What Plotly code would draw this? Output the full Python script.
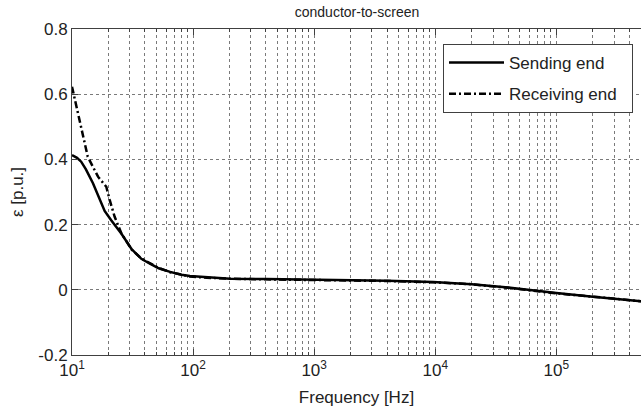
import plotly.graph_objects as go

# Frequency sweep (Hz) and epsilon values (p.u.), conductor-to-screen
freq_send = [10, 11, 11.9, 13, 14.9, 16.5, 18.6, 21, 23.5, 25.6, 31, 37.4, 44, 52,
             64.6, 80, 94, 130, 202, 400, 1050, 2000, 4000, 9600, 20000, 40000,
             65000, 100000, 200000, 500000]
eps_send = [0.413, 0.405, 0.393, 0.370, 0.327, 0.285, 0.242, 0.214, 0.192, 0.172,
            0.125, 0.095, 0.080, 0.066, 0.055, 0.046, 0.042, 0.038, 0.034, 0.033,
            0.031, 0.029, 0.028, 0.024, 0.017, 0.007, -0.003, -0.010, -0.021, -0.035]

freq_recv = [10, 11.6, 13.5, 16.4, 19.2, 20.5, 22.5, 25.6, 31, 37.4, 44, 52, 64.6,
             80, 94, 130, 202, 400, 1050, 2000, 4000, 9600, 20000, 40000, 65000,
             100000, 200000, 500000]
eps_recv = [0.623, 0.521, 0.408, 0.347, 0.316, 0.275, 0.224, 0.173, 0.124, 0.096,
            0.081, 0.067, 0.054, 0.046, 0.041, 0.037, 0.034, 0.032, 0.030, 0.028,
            0.027, 0.023, 0.017, 0.006, -0.004, -0.011, -0.021, -0.035]

x_major = [10, 100, 1000, 10000, 100000]
x_major_text = ["10<sup>1</sup>", "10<sup>2</sup>", "10<sup>3</sup>",
                "10<sup>4</sup>", "10<sup>5</sup>"]
x_minor = [k * 10 ** d for d in range(1, 6) for k in range(2, 10) if k * 10 ** d <= 400000]
y_ticks = [-0.2, 0, 0.2, 0.4, 0.6, 0.8]
y_tick_text = ["-0.2", "0", "0.2", "0.4", "0.6", "0.8"]

FONT = "Liberation Sans, Arial, Helvetica, sans-serif"
AXC = "#404040"
GRID = "#7a7a7a"

fig = go.Figure()
fig.add_trace(go.Scatter(x=freq_send, y=eps_send, mode="lines",
                         name="Sending end\u00a0\u00a0", legendgroup="s",
                         line=dict(color="black", width=2.5)))
fig.add_trace(go.Scatter(x=freq_recv, y=eps_recv, mode="lines",
                         name="Receiving end\u00a0\u00a0", legendgroup="r",
                         line=dict(color="black", width=2.5, dash="7px,3px,2px,3px")))

fig.update_layout(
    width=641, height=412,
    margin=dict(l=72, r=0, t=29, b=57),
    paper_bgcolor="white", plot_bgcolor="white",
    font=dict(family=FONT, size=17, color="#222"),
    title=dict(text="conductor-to-screen", x=0.557, xanchor="center",
               y=1 - 12 / 412, yanchor="middle", yref="container",
               font=dict(size=14, color="#222")),
    showlegend=True,
    legend=dict(x=(443 - 72) / 569, xanchor="left", y=(355 - 44) / 326, yanchor="top",
                bgcolor="white", bordercolor=AXC, borderwidth=1,
                font=dict(size=17, color="#222"), tracegroupgap=6,
                itemwidth=55),
    xaxis=dict(
        type="log", range=[1, 5.699],
        tickvals=x_major, ticktext=x_major_text,
        ticks="inside", ticklen=6, tickcolor=AXC,
        showline=True, linecolor=AXC, linewidth=1, mirror="ticks",
        showgrid=True, gridcolor=GRID, griddash="dot", gridwidth=1,
        zeroline=False,
        minor=dict(tickvals=x_minor, ticks="inside", ticklen=3, tickcolor=AXC,
                   showgrid=True, gridcolor=GRID, griddash="dot", gridwidth=1),
        title=dict(text="Frequency [Hz]", standoff=11, font=dict(size=17)),
        tickfont=dict(size=17),
    ),
    yaxis=dict(
        range=[-0.2, 0.8], tickvals=y_ticks, ticktext=y_tick_text,
        ticks="inside", ticklen=6, tickcolor=AXC,
        showline=True, linecolor=AXC, linewidth=1, mirror=False,
        showgrid=True, gridcolor=GRID, griddash="dot", gridwidth=1,
        zeroline=False,
        title=dict(text="ε [p.u.]", standoff=10, font=dict(size=17)),
        tickfont=dict(size=17),
    ),
)

fig.write_html("out.html")
